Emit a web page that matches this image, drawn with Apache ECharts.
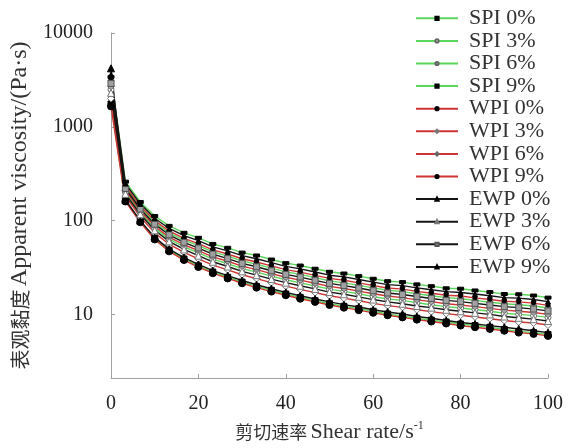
<!DOCTYPE html>
<html>
<head>
<meta charset="utf-8">
<script src="https://cdn.jsdelivr.net/npm/echarts@6/dist/echarts.min.js"></script>
<style>
  html, body { margin: 0; padding: 0; background: #fff; }
  #chart { width: 569px; height: 448px; }
</style>
</head>
<body>
<div id="chart"></div>
<script>
// Shear rate (s^-1) for every measured point
const shearRate = [0, 3.3, 6.7, 10, 13.3, 16.7, 20, 23.3, 26.7, 30, 33.3, 36.7, 40, 43.3, 46.7, 50,
  53.3, 56.7, 60, 63.3, 66.7, 70, 73.3, 76.7, 80, 83.3, 86.7, 90, 93.3, 96.7, 100];

// Apparent viscosity (Pa·s) per sample
const spi0 = [1750, 163, 98, 64.4, 48.2, 39.0, 32.9, 28.3, 24.9, 22.1, 19.9, 18.1, 16.5, 15.2, 14.0, 13.0,
  12.2, 11.5, 10.8, 10.1, 9.6, 9.1, 8.7, 8.3, 7.9, 7.6, 7.3, 6.9, 6.6, 6.4, 6.1];
const spi3 = [2500, 202, 122, 83.1, 63.5, 52.4, 45.2, 38.8, 34.7, 30.8, 28.2, 25.6, 23.4, 21.7, 20.1, 18.6,
  17.6, 16.6, 15.5, 14.6, 14.1, 13.3, 12.7, 12.1, 11.7, 11.3, 10.8, 10.3, 10.0, 9.7, 9.3];
const spi6 = [3100, 228, 138, 96.0, 74.2, 61.9, 54.0, 46.4, 41.9, 37.2, 34.3, 31.1, 28.4, 26.7, 24.7, 22.8,
  21.7, 20.4, 19.2, 18.1, 17.5, 16.6, 15.8, 15.1, 14.7, 14.1, 13.5, 13.0, 12.7, 12.3, 11.7];
const spi9 = [3400, 260, 158, 112, 87.9, 74.1, 65.6, 56.4, 51.3, 45.6, 42.5, 38.5, 35.2, 33.2, 30.7, 28.5,
  27.3, 25.6, 24.0, 22.6, 22.1, 20.9, 20.0, 19.0, 18.8, 18.0, 17.3, 16.5, 16.4, 15.9, 15.1];
const wpi0 = [1650, 160, 96, 63, 47, 38, 32, 27.5, 24.2, 21.5, 19.3, 17.5, 16.0, 14.7, 13.6, 12.6,
  11.8, 11.1, 10.4, 9.8, 9.3, 8.8, 8.4, 8.0, 7.6, 7.3, 7.0, 6.7, 6.4, 6.2, 5.9];
const wpi3 = [2000, 183, 110, 74.0, 56.0, 45.8, 39.1, 33.6, 29.9, 26.5, 24.1, 21.8, 20.0, 18.5, 17.1, 15.8,
  14.9, 14.0, 13.1, 12.4, 11.9, 11.2, 10.7, 10.2, 9.8, 9.4, 9.0, 8.6, 8.3, 8.1, 7.7];
const wpi6 = [2700, 210, 127, 87.0, 66.7, 55.3, 47.8, 41.1, 36.9, 32.7, 30.0, 27.2, 24.9, 23.2, 21.5, 19.9,
  18.9, 17.7, 16.6, 15.7, 15.1, 14.3, 13.7, 13.0, 12.6, 12.1, 11.6, 11.1, 10.8, 10.5, 10.0];
const wpi9 = [3300, 236, 143, 100, 77.6, 64.8, 56.8, 48.8, 44.1, 39.2, 36.2, 32.9, 30.0, 28.2, 26.1, 24.2,
  23.1, 21.7, 20.3, 19.1, 18.6, 17.6, 16.8, 16.0, 15.7, 15.0, 14.4, 13.8, 13.6, 13.2, 12.5];
const ewp0 = [4200, 167, 100, 66.3, 49.7, 40.4, 34.1, 29.3, 25.9, 23.0, 20.7, 18.8, 17.2, 15.8, 14.6, 13.6,
  12.7, 12.0, 11.2, 10.6, 10.1, 9.5, 9.1, 8.6, 8.2, 7.9, 7.6, 7.3, 7.0, 6.7, 6.4];
const ewp3 = [2300, 193, 117, 78.9, 60.0, 49.3, 42.3, 36.4, 32.4, 28.8, 26.2, 23.8, 21.8, 20.2, 18.7, 17.3,
  16.4, 15.4, 14.4, 13.6, 13.0, 12.3, 11.8, 11.2, 10.8, 10.4, 10.0, 9.5, 9.2, 8.9, 8.5];
const ewp6 = [2900, 220, 133, 91.7, 70.6, 58.7, 51.0, 43.9, 39.4, 35.0, 32.2, 29.2, 26.7, 25.0, 23.1, 21.4,
  20.3, 19.1, 17.9, 16.9, 16.3, 15.5, 14.8, 14.1, 13.7, 13.1, 12.6, 12.1, 11.8, 11.4, 10.9];
const ewp9 = [3600, 248, 151, 106, 82.5, 69.3, 61.1, 52.5, 47.6, 42.3, 39.2, 35.6, 32.5, 30.6, 28.3, 26.2,
  25.1, 23.6, 22.1, 20.8, 20.3, 19.2, 18.3, 17.5, 17.1, 16.5, 15.8, 15.1, 14.9, 14.4, 13.7];

const seriesNames = ['SPI 0%', 'SPI 3%', 'SPI 6%', 'SPI 9%', 'WPI 0%', 'WPI 3%', 'WPI 6%', 'WPI 9%',
  'EWP 0%', 'EWP 3%', 'EWP 6%', 'EWP 9%'];
const seriesValues = [spi0, spi3, spi6, spi9, wpi0, wpi3, wpi6, wpi9, ewp0, ewp3, ewp6, ewp9];
const yTickLabels = [10, 100, 1000, 10000];

// Line colour per protein, marker per concentration
const GREEN = '#5ad65a', RED = '#cf3434', BLACK = '#151515';
const DASH = 'path://M0,0H2V1H0Z';
const looks = [
  { line: GREEN, symbol: 'rect', size: 6, fill: '#000', border: '#000' },
  { line: GREEN, symbol: 'circle', size: 6, fill: '#fff', border: '#666' },
  { line: GREEN, symbol: 'circle', size: 6, fill: '#a8a8a8', border: '#666' },
  { line: GREEN, symbol: DASH, size: 6, fill: '#000', border: '#000' },
  { line: RED, symbol: 'circle', size: 7, fill: '#000', border: '#000' },
  { line: RED, symbol: 'diamond', size: 7, fill: '#fff', border: '#777' },
  { line: RED, symbol: 'diamond', size: 7, fill: '#a8a8a8', border: '#666' },
  { line: RED, symbol: 'circle', size: 4, fill: '#000', border: '#000' },
  { line: BLACK, symbol: 'triangle', size: 7, fill: '#000', border: '#000' },
  { line: BLACK, symbol: 'triangle', size: 7, fill: '#fff', border: '#777' },
  { line: BLACK, symbol: 'rect', size: 6, fill: '#a0a0a0', border: '#555' },
  { line: BLACK, symbol: 'triangle', size: 5, fill: '#000', border: '#000' }
];

const SERIF = "'Liberation Serif', 'Times New Roman', serif";
const CJK = "'Noto Sans CJK SC', sans-serif";

const series = seriesNames.map((name, i) => ({
  name,
  type: 'line',
  data: shearRate.map((x, j) => [x, seriesValues[i][j]]),
  symbol: looks[i].symbol,
  symbolSize: looks[i].size,
  symbolKeepAspect: true,
  showAllSymbol: true,
  lineStyle: { color: looks[i].line, width: 1.4 },
  itemStyle: { color: looks[i].fill, borderColor: looks[i].border, borderWidth: 1 },
  emphasis: { disabled: true },
  animation: false
}));

const chart = echarts.init(document.getElementById('chart'));
chart.setOption({
  backgroundColor: '#fff',
  animation: false,
  grid: { left: 111, right: 21, top: 33, bottom: 63 },
  legend: {
    orient: 'vertical',
    left: 415,
    top: 7,
    padding: 0,
    itemWidth: 42,
    itemHeight: 4,
    itemGap: 0,
    data: seriesNames,
    textStyle: { fontFamily: SERIF, fontSize: 22, color: '#333', lineHeight: 22.6, padding: [0, 0, 0, 6] }
  },
  xAxis: {
    type: 'value',
    min: 0,
    max: 100,
    interval: 20,
    axisLine: { lineStyle: { color: '#a0a0a0', width: 1 } },
    axisTick: { inside: true, length: 4, lineStyle: { color: '#a0a0a0' } },
    splitLine: { show: false },
    axisLabel: { fontFamily: SERIF, fontSize: 20, color: '#222', margin: 16 },
    name: '{zh|剪切速率} {en|Shear rate/s}{sup|-1}',
    nameLocation: 'middle',
    nameGap: 42,
    nameTextStyle: {
      rich: {
        zh: { fontFamily: CJK, fontSize: 18, color: '#333', lineHeight: 24 },
        en: { fontFamily: SERIF, fontSize: 22, color: '#333', lineHeight: 24 },
        sup: { fontFamily: SERIF, fontSize: 12, color: '#333', lineHeight: 24, verticalAlign: 'top', padding: [0, 0, 10, 0] }
      }
    }
  },
  yAxis: {
    type: 'log',
    logBase: 10,
    min: 2.1,
    max: 10000,
    axisLine: { show: true, lineStyle: { color: '#a0a0a0', width: 1 } },
    axisTick: { show: true, inside: true, length: 4, lineStyle: { color: '#a0a0a0' } },
    splitLine: { show: false },
    axisLabel: {
      fontFamily: SERIF, fontSize: 20, color: '#222', margin: 18,
      showMinLabel: false,
      formatter: v => {
        const r = Math.round(v);
        return yTickLabels.indexOf(r) >= 0 ? String(r) : '';
      }
    },
    name: '{zh|表观黏度} {en|Apparent viscosity/(Pa·s)}',
    nameLocation: 'middle',
    nameGap: 78,
    nameTextStyle: {
      rich: {
        zh: { fontFamily: CJK, fontSize: 20, color: '#333' },
        en: { fontFamily: SERIF, fontSize: 24, color: '#333' }
      }
    }
  },
  series
});
</script>
</body>
</html>
